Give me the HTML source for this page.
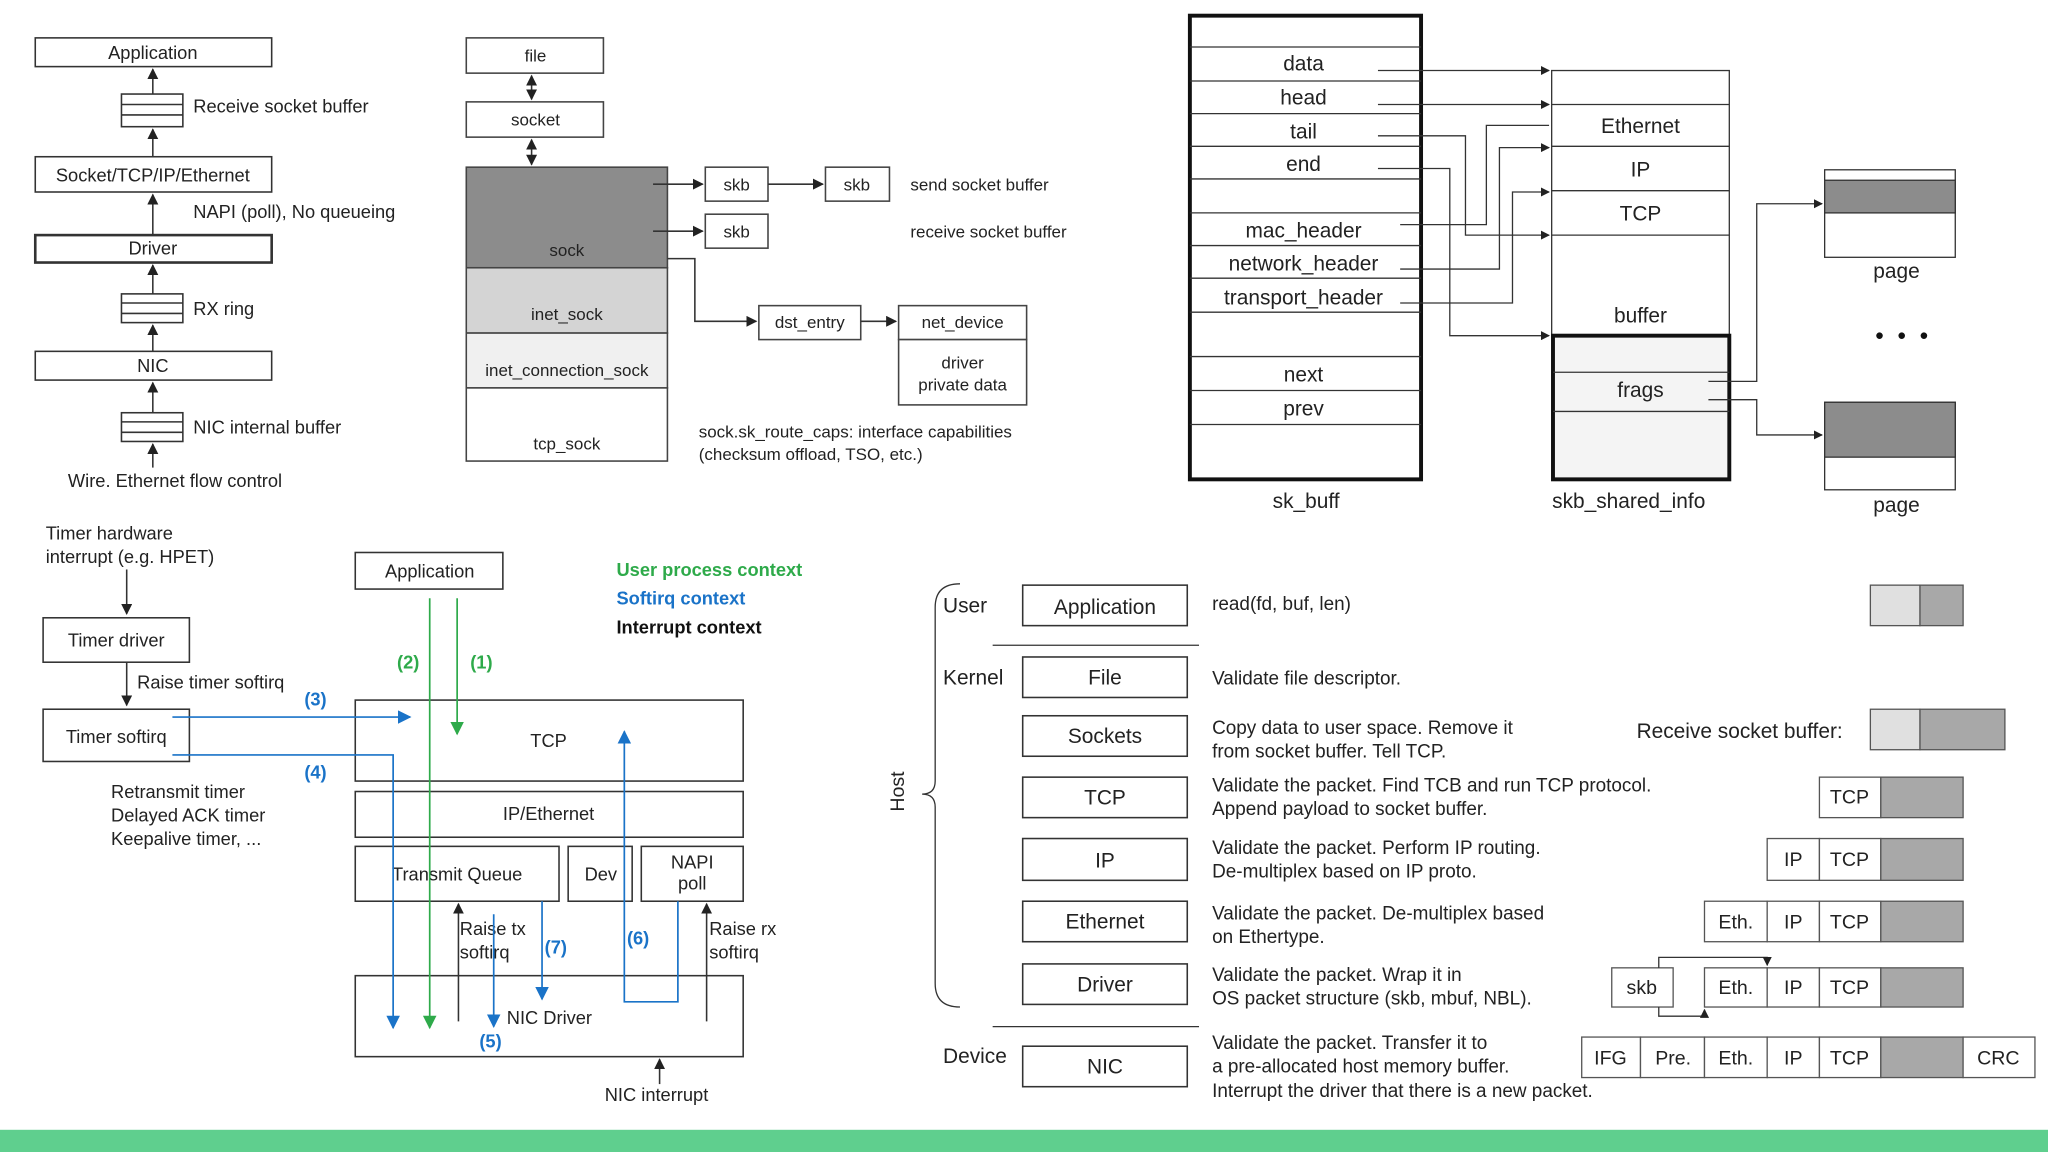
<!DOCTYPE html>
<html><head><meta charset="utf-8"><style>
html,body{margin:0;padding:0;background:#fff;}
svg{display:block;}
text{font-family:"Liberation Sans","Noto Sans CJK KR",sans-serif;fill:#222;}
</style></head><body>
<svg width="2048" height="1152" viewBox="0 0 1568 882" preserveAspectRatio="none" xmlns="http://www.w3.org/2000/svg">
<defs>
<marker id="a" viewBox="0 0 10 10" refX="9" refY="5" markerWidth="7" markerHeight="7" orient="auto-start-reverse"><path d="M0,0L10,5L0,10z" fill="#222"/></marker>
<marker id="ab" viewBox="0 0 10 10" refX="9" refY="5" markerWidth="8" markerHeight="8" orient="auto-start-reverse"><path d="M0,0L10,5L0,10z" fill="#1a73c8"/></marker>
<marker id="ag" viewBox="0 0 10 10" refX="9" refY="5" markerWidth="8" markerHeight="8" orient="auto-start-reverse"><path d="M0,0L10,5L0,10z" fill="#2eaa4a"/></marker>
</defs>
<rect width="1568" height="882" fill="#fff"/>

<!-- TOP LEFT -->
<g stroke="#333" fill="none" stroke-width="1.2">
<rect x="27" y="29" width="181" height="22"/>
<rect x="27" y="120" width="181" height="27"/>
<rect x="27" y="180" width="181" height="21" stroke-width="2"/>
<rect x="27" y="269" width="181" height="22"/>
<rect x="93" y="72" width="47" height="25"/><line x1="93" y1="80" x2="140" y2="80"/><line x1="93" y1="88" x2="140" y2="88"/>
<rect x="93" y="225" width="47" height="22"/><line x1="93" y1="232" x2="140" y2="232"/><line x1="93" y1="240" x2="140" y2="240"/>
<rect x="93" y="316" width="47" height="22"/><line x1="93" y1="323" x2="140" y2="323"/><line x1="93" y1="331" x2="140" y2="331"/>
<line x1="117" y1="72" x2="117" y2="53" marker-end="url(#a)"/>
<line x1="117" y1="120" x2="117" y2="99" marker-end="url(#a)"/>
<line x1="117" y1="180" x2="117" y2="149" marker-end="url(#a)"/>
<line x1="117" y1="225" x2="117" y2="203" marker-end="url(#a)"/>
<line x1="117" y1="269" x2="117" y2="249" marker-end="url(#a)"/>
<line x1="117" y1="316" x2="117" y2="293" marker-end="url(#a)"/>
<line x1="117" y1="358" x2="117" y2="340" marker-end="url(#a)"/>
</g>
<g font-size="14">
<text x="117" y="45" text-anchor="middle">Application</text>
<text x="148" y="86">Receive socket buffer</text>
<text x="117" y="139" text-anchor="middle">Socket/TCP/IP/Ethernet</text>
<text x="148" y="167">NAPI (poll), No queueing</text>
<text x="117" y="195" text-anchor="middle">Driver</text>
<text x="148" y="241">RX ring</text>
<text x="117" y="285" text-anchor="middle">NIC</text>
<text x="148" y="332">NIC internal buffer</text>
<text x="52" y="373">Wire. Ethernet flow control</text>
</g>

<!-- TOP MIDDLE -->
<g stroke="#444" stroke-width="1.2">
<rect x="357" y="29" width="105" height="27" fill="#fff"/>
<rect x="357" y="78" width="105" height="27" fill="#fff"/>
<rect x="357" y="128" width="154" height="77" fill="#8c8c8c"/>
<rect x="357" y="205" width="154" height="50" fill="#d4d4d4"/>
<rect x="357" y="255" width="154" height="42" fill="#f0f0f0"/>
<rect x="357" y="297" width="154" height="56" fill="#fff"/>
<rect x="540" y="128" width="48" height="26" fill="#fff"/>
<rect x="632" y="128" width="49" height="26" fill="#fff"/>
<rect x="540" y="164" width="48" height="26" fill="#fff"/>
<rect x="581" y="234" width="78" height="26" fill="#fff"/>
<rect x="688" y="234" width="98" height="26" fill="#fff"/>
<rect x="688" y="260" width="98" height="50" fill="#fff"/>
</g>
<g stroke="#333" fill="none" stroke-width="1.2">
<line x1="407" y1="58" x2="407" y2="76" marker-end="url(#a)" marker-start="url(#a)"/>
<line x1="407" y1="107" x2="407" y2="126" marker-end="url(#a)" marker-start="url(#a)"/>
<line x1="500" y1="141" x2="538" y2="141" marker-end="url(#a)"/>
<line x1="588" y1="141" x2="630" y2="141" marker-end="url(#a)"/>
<line x1="500" y1="177" x2="538" y2="177" marker-end="url(#a)"/>
<polyline points="511,198 532,198 532,246 579,246" marker-end="url(#a)"/>
<line x1="659" y1="246" x2="686" y2="246" marker-end="url(#a)"/>
</g>
<g font-size="13" text-anchor="middle">
<text x="410" y="47">file</text>
<text x="410" y="96">socket</text>
<text x="434" y="196">sock</text>
<text x="434" y="245">inet_sock</text>
<text x="434" y="288">inet_connection_sock</text>
<text x="434" y="344">tcp_sock</text>
<text x="564" y="146">skb</text>
<text x="656" y="146">skb</text>
<text x="564" y="182">skb</text>
<text x="620" y="251">dst_entry</text>
<text x="737" y="251">net_device</text>
<text x="737" y="282">driver</text>
<text x="737" y="299">private data</text>
</g>
<g font-size="13">
<text x="697" y="146">send socket buffer</text>
<text x="697" y="182">receive socket buffer</text>
<text x="535" y="335">sock.sk_route_caps: interface capabilities</text>
<text x="535" y="352">(checksum offload, TSO, etc.)</text>
</g>

<!-- TOP RIGHT sk_buff -->
<rect x="911" y="12" width="177" height="355" fill="#fff" stroke="#111" stroke-width="3"/>
<g stroke="#333" stroke-width="1">
<line x1="911" y1="36" x2="1088" y2="36"/><line x1="911" y1="62" x2="1088" y2="62"/>
<line x1="911" y1="87" x2="1088" y2="87"/><line x1="911" y1="112" x2="1088" y2="112"/>
<line x1="911" y1="137" x2="1088" y2="137"/><line x1="911" y1="163" x2="1088" y2="163"/>
<line x1="911" y1="188" x2="1088" y2="188"/><line x1="911" y1="213" x2="1088" y2="213"/>
<line x1="911" y1="239" x2="1088" y2="239"/><line x1="911" y1="273" x2="1088" y2="273"/>
<line x1="911" y1="299" x2="1088" y2="299"/><line x1="911" y1="325" x2="1088" y2="325"/>
</g>
<g stroke="#333" fill="none" stroke-width="1">
<rect x="1188" y="54" width="136" height="203"/>
<line x1="1188" y1="80" x2="1324" y2="80"/><line x1="1188" y1="112" x2="1324" y2="112"/>
<line x1="1188" y1="146" x2="1324" y2="146"/><line x1="1188" y1="180" x2="1324" y2="180"/>
</g>
<rect x="1189" y="257" width="135" height="110" fill="#f4f4f4" stroke="#111" stroke-width="3"/>
<g stroke="#333" stroke-width="1"><line x1="1189" y1="285" x2="1324" y2="285"/><line x1="1189" y1="315" x2="1324" y2="315"/></g>
<g font-size="16" text-anchor="middle">
<text x="998" y="54">data</text><text x="998" y="80">head</text><text x="998" y="106">tail</text>
<text x="998" y="131">end</text><text x="998" y="182">mac_header</text><text x="998" y="207">network_header</text>
<text x="998" y="233">transport_header</text><text x="998" y="292">next</text><text x="998" y="318">prev</text>
<text x="1000" y="389">sk_buff</text>
<text x="1256" y="102">Ethernet</text><text x="1256" y="135">IP</text><text x="1256" y="169">TCP</text>
<text x="1256" y="247">buffer</text><text x="1256" y="304">frags</text>
<text x="1247" y="389">skb_shared_info</text>
<text x="1452" y="213">page</text><text x="1452" y="392">page</text>
</g>
<rect x="1397" y="130" width="100" height="67" fill="#fff" stroke="#333"/>
<rect x="1397" y="138" width="100" height="25" fill="#8c8c8c" stroke="#333"/>
<rect x="1397" y="308" width="100" height="67" fill="#fff" stroke="#333"/>
<rect x="1397" y="308" width="100" height="42" fill="#8c8c8c" stroke="#333"/>
<g fill="#111"><circle cx="1439" cy="257" r="2.5"/><circle cx="1456" cy="257" r="2.5"/><circle cx="1473" cy="257" r="2.5"/></g>
<g stroke="#333" fill="none" stroke-width="1">
<line x1="1055" y1="54" x2="1186" y2="54" marker-end="url(#a)"/>
<line x1="1055" y1="80" x2="1186" y2="80" marker-end="url(#a)"/>
<polyline points="1055,104 1122,104 1122,180 1186,180" marker-end="url(#a)"/>
<polyline points="1055,129 1110,129 1110,257 1186,257" marker-end="url(#a)"/>
<polyline points="1072,172 1138,172 1138,96 1186,96"/>
<polyline points="1072,206 1148,206 1148,113 1186,113" marker-end="url(#a)"/>
<polyline points="1072,232 1158,232 1158,147 1186,147" marker-end="url(#a)"/>
<polyline points="1308,292 1345,292 1345,156 1395,156" marker-end="url(#a)"/>
<polyline points="1308,306 1345,306 1345,333 1395,333" marker-end="url(#a)"/>
</g>

<!-- BOTTOM LEFT -->
<g font-size="14">
<text x="35" y="413">Timer hardware</text><text x="35" y="431">interrupt (e.g. HPET)</text>
<text x="105" y="527">Raise timer softirq</text>
<text x="85" y="611">Retransmit timer</text><text x="85" y="629">Delayed ACK timer</text><text x="85" y="647">Keepalive timer, ...</text>
<text x="89" y="495" text-anchor="middle">Timer driver</text>
<text x="89" y="569" text-anchor="middle">Timer softirq</text>
<text x="329" y="442" text-anchor="middle">Application</text>
<text x="420" y="572" text-anchor="middle">TCP</text>
<text x="420" y="628" text-anchor="middle">IP/Ethernet</text>
<text x="350" y="674" text-anchor="middle">Transmit Queue</text>
<text x="460" y="674" text-anchor="middle">Dev</text>
<text x="530" y="665" text-anchor="middle">NAPI</text><text x="530" y="681" text-anchor="middle">poll</text>
<text x="388" y="784">NIC Driver</text>
<text x="352" y="716">Raise tx</text><text x="352" y="734">softirq</text>
<text x="543" y="716">Raise rx</text><text x="543" y="734">softirq</text>
<text x="463" y="843">NIC interrupt</text>
</g>
<g font-size="14" font-weight="bold">
<text x="472" y="441" style="fill:#2eaa4a">User  process context</text>
<text x="472" y="463" style="fill:#1a73c8">Softirq context</text>
<text x="472" y="485" style="fill:#111">Interrupt context</text>
</g>
<g font-size="14" font-weight="bold">
<text x="233" y="540" style="fill:#1a73c8">(3)</text><text x="233" y="596" style="fill:#1a73c8">(4)</text>
<text x="417" y="730" style="fill:#1a73c8">(7)</text><text x="480" y="723" style="fill:#1a73c8">(6)</text>
<text x="367" y="802" style="fill:#1a73c8">(5)</text>
<text x="304" y="512" style="fill:#2eaa4a">(2)</text><text x="360" y="512" style="fill:#2eaa4a">(1)</text>
</g>
<g stroke="#333" fill="none" stroke-width="1.2">
<rect x="33" y="473" width="112" height="34"/>
<rect x="33" y="543" width="112" height="40"/>
<rect x="272" y="423" width="113" height="28"/>
<rect x="272" y="536" width="297" height="62"/>
<rect x="272" y="606" width="297" height="35"/>
<rect x="272" y="648" width="156" height="42"/>
<rect x="435" y="648" width="49" height="42"/>
<rect x="491" y="648" width="78" height="42"/>
<rect x="272" y="747" width="297" height="62"/>
<line x1="97" y1="436" x2="97" y2="470" marker-end="url(#a)"/>
<line x1="97" y1="507" x2="97" y2="540" marker-end="url(#a)"/>
<line x1="351" y1="782" x2="351" y2="692" marker-end="url(#a)"/>
<line x1="541" y1="782" x2="541" y2="692" marker-end="url(#a)"/>
<line x1="505" y1="830" x2="505" y2="811" marker-end="url(#a)"/>
</g>
<g stroke="#1a73c8" fill="none" stroke-width="1.3">
<line x1="132" y1="549" x2="314" y2="549" marker-end="url(#ab)"/>
<polyline points="132,578 301,578 301,787" marker-end="url(#ab)"/>
<polyline points="519,690 519,767 478,767 478,560" marker-end="url(#ab)"/>
<line x1="415" y1="690" x2="415" y2="765" marker-end="url(#ab)"/>
<line x1="378" y1="700" x2="378" y2="786" marker-end="url(#ab)"/>
</g>
<g stroke="#2eaa4a" fill="none" stroke-width="1.3">
<line x1="350" y1="458" x2="350" y2="562" marker-end="url(#ag)"/>
<line x1="329" y1="458" x2="329" y2="787" marker-end="url(#ag)"/>
</g>

<!-- BOTTOM RIGHT -->
<g stroke="#333" fill="none" stroke-width="1">
<path d="M735,447 Q716,447 716,465 L716,598 Q716,608 706,608 Q716,608 716,618 L716,753 Q716,771 735,771"/>
<line x1="760" y1="494" x2="918" y2="494"/>
<line x1="760" y1="786" x2="918" y2="786"/>
</g>
<text x="692" y="606" font-size="15" text-anchor="middle" transform="rotate(-90 692 606)">Host</text>
<g font-size="16">
<text x="722" y="469">User</text><text x="722" y="524">Kernel</text><text x="722" y="814">Device</text>
</g>
<g stroke="#333" fill="#fff" stroke-width="1.2">
<rect x="783" y="448" width="126" height="31"/><rect x="783" y="503" width="126" height="31"/>
<rect x="783" y="548" width="126" height="31"/><rect x="783" y="595" width="126" height="31"/>
<rect x="783" y="642" width="126" height="32"/><rect x="783" y="690" width="126" height="31"/>
<rect x="783" y="738" width="126" height="31"/><rect x="783" y="801" width="126" height="31"/>
</g>
<g font-size="16" text-anchor="middle">
<text x="846" y="470">Application</text><text x="846" y="524">File</text><text x="846" y="569">Sockets</text>
<text x="846" y="616">TCP</text><text x="846" y="664">IP</text><text x="846" y="711">Ethernet</text>
<text x="846" y="759">Driver</text><text x="846" y="822">NIC</text>
</g>
<g font-size="14.5">
<text x="928" y="467">read(fd, buf, len)</text>
<text x="928" y="524">Validate file descriptor.</text>
<text x="928" y="562">Copy data to user space. Remove it</text><text x="928" y="580">from socket buffer. Tell TCP.</text>
<text x="928" y="606">Validate the packet. Find TCB and run TCP protocol.</text><text x="928" y="624">Append payload to socket buffer.</text>
<text x="928" y="654">Validate the packet. Perform IP routing.</text><text x="928" y="672">De-multiplex based on IP proto.</text>
<text x="928" y="704">Validate the packet. De-multiplex based</text><text x="928" y="722">on Ethertype.</text>
<text x="928" y="751">Validate the packet. Wrap it in</text><text x="928" y="769">OS packet structure (skb, mbuf, NBL).</text>
<text x="928" y="803">Validate the packet. Transfer it to</text><text x="928" y="821">a pre-allocated host memory buffer.</text><text x="928" y="840">Interrupt the driver that there is a new packet.</text>
<text x="1253" y="565" font-size="16">Receive socket buffer:</text>
</g>
<g stroke="#555" stroke-width="1">
<rect x="1432" y="448" width="38" height="31" fill="#e0e0e0"/><rect x="1470" y="448" width="33" height="31" fill="#a8a8a8"/>
<rect x="1432" y="543" width="38" height="31" fill="#e0e0e0"/><rect x="1470" y="543" width="65" height="31" fill="#a8a8a8"/>
<rect x="1393" y="595" width="47" height="31" fill="#fff"/><rect x="1440" y="595" width="63" height="31" fill="#a8a8a8"/>
<rect x="1353" y="642" width="40" height="32" fill="#fff"/><rect x="1393" y="642" width="47" height="32" fill="#fff"/><rect x="1440" y="642" width="63" height="32" fill="#a8a8a8"/>
<rect x="1305" y="690" width="48" height="31" fill="#fff"/><rect x="1353" y="690" width="40" height="31" fill="#fff"/><rect x="1393" y="690" width="47" height="31" fill="#fff"/><rect x="1440" y="690" width="63" height="31" fill="#a8a8a8"/>
<rect x="1234" y="741" width="47" height="30" fill="#fff"/>
<rect x="1305" y="741" width="48" height="30" fill="#fff"/><rect x="1353" y="741" width="40" height="30" fill="#fff"/><rect x="1393" y="741" width="47" height="30" fill="#fff"/><rect x="1440" y="741" width="63" height="30" fill="#a8a8a8"/>
<rect x="1211" y="794" width="45" height="31" fill="#fff"/><rect x="1256" y="794" width="49" height="31" fill="#fff"/><rect x="1305" y="794" width="48" height="31" fill="#fff"/><rect x="1353" y="794" width="40" height="31" fill="#fff"/><rect x="1393" y="794" width="47" height="31" fill="#fff"/><rect x="1440" y="794" width="63" height="31" fill="#a8a8a8"/><rect x="1503" y="794" width="55" height="31" fill="#fff"/>
</g>
<g stroke="#333" fill="none" stroke-width="1">
<polyline points="1270,741 1270,733 1353,733 1353,739" marker-end="url(#a)"/>
<polyline points="1270,771 1270,778 1305,778 1305,773" marker-end="url(#a)"/>
</g>
<g font-size="15" text-anchor="middle">
<text x="1416" y="615">TCP</text>
<text x="1373" y="663">IP</text><text x="1416" y="663">TCP</text>
<text x="1329" y="711">Eth.</text><text x="1373" y="711">IP</text><text x="1416" y="711">TCP</text>
<text x="1257" y="761">skb</text><text x="1329" y="761">Eth.</text><text x="1373" y="761">IP</text><text x="1416" y="761">TCP</text>
<text x="1233" y="815">IFG</text><text x="1281" y="815">Pre.</text><text x="1329" y="815">Eth.</text><text x="1373" y="815">IP</text><text x="1416" y="815">TCP</text><text x="1530" y="815">CRC</text>
</g>

<rect x="0" y="865" width="1568" height="17" fill="#5fcf8e"/>
</svg>
</body></html>
